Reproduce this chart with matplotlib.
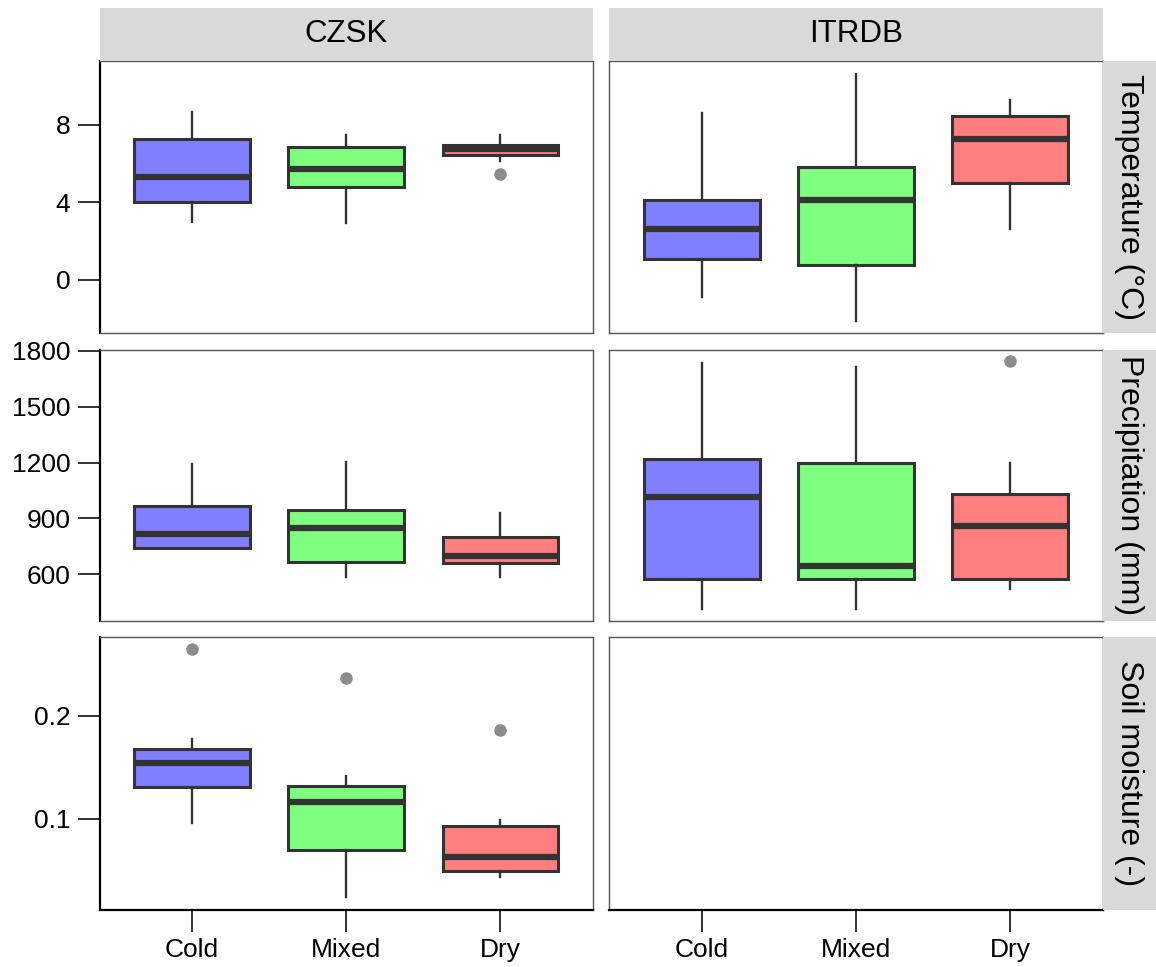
import matplotlib.pyplot as plt
import numpy as np

plt.rcParams['font.family'] = ['Liberation Sans', 'DejaVu Sans']

categories = ['Cold', 'Mixed', 'Dry']
columns = ['CZSK', 'ITRDB']
rows = ['Temperature (°C)', 'Precipitation (mm)', 'Soil moisture (-)']
box_colors = ['#7F7FFF', '#7FFF7F', '#FF7F7F']

# box stats per category: whisker low, q1, median, q3, whisker high
czsk_temp = [[3.0, 4.0, 5.31, 7.26, 8.69],
             [2.95, 4.8, 5.73, 6.85, 7.49],
             [6.14, 6.44, 6.78, 6.94, 7.49]]
czsk_temp_out = [[], [], [5.47]]
itrdb_temp = [[-0.91, 1.05, 2.64, 4.14, 8.64],
              [-2.12, 0.74, 4.11, 5.81, 10.64],
              [2.61, 4.99, 7.26, 8.48, 9.30]]
itrdb_temp_out = [[], [], []]

czsk_prec = [[740, 740, 815, 969, 1193],
             [584, 666, 847, 946, 1202],
             [584, 662, 700, 799, 928]]
czsk_prec_out = [[], [], []]
itrdb_prec = [[412, 576, 1017, 1220, 1734],
              [412, 573, 646, 1197, 1713],
              [520, 573, 860, 1030, 1197]]
itrdb_prec_out = [[], [], [1747]]

czsk_soil = [[0.0958, 0.1313, 0.1539, 0.1675, 0.1771],
             [0.0248, 0.0700, 0.1165, 0.1320, 0.1419],
             [0.0442, 0.0494, 0.0636, 0.0936, 0.0991]]
czsk_soil_out = [[0.2646], [0.2362], [0.1862]]

yticks = [[0, 4, 8], [600, 900, 1200, 1500, 1800], [0.1, 0.2]]
yticklabels = [['0', '4', '8'], ['600', '900', '1200', '1500', '1800'], ['0.1', '0.2']]
ylims = [(-2.76, 11.31), (349, 1808), (0.0119, 0.2762)]

panel_data = [[(czsk_temp, czsk_temp_out), (itrdb_temp, itrdb_temp_out)],
              [(czsk_prec, czsk_prec_out), (itrdb_prec, itrdb_prec_out)],
              [(czsk_soil, czsk_soil_out), None]]

W, H = 1156, 967
fig = plt.figure(figsize=(W / 100, H / 100), dpi=100)

def rect(x0, y0, x1, y1):
    return [x0 / W, 1 - y1 / H, (x1 - x0) / W, (y1 - y0) / H]

col_x = [(99.5, 593), (609, 1103)]
row_y = [(61, 333), (349.5, 621), (637, 910)]
strip_col = '#D9D9D9'
dark = '#333333'

for r in range(3):
    for c in range(2):
        ax = fig.add_axes(rect(col_x[c][0], row_y[r][0], col_x[c][1], row_y[r][1]))
        d = panel_data[r][c]
        if d is not None:
            stats = []
            for i, s in enumerate(d[0]):
                stats.append(dict(whislo=s[0], q1=s[1], med=s[2], q3=s[3], whishi=s[4],
                                  fliers=d[1][i], label=categories[i]))
            bp = ax.bxp(stats, positions=[1, 2, 3], widths=0.75, patch_artist=True,
                        showcaps=False,
                        boxprops=dict(edgecolor=dark, linewidth=2.2),
                        medianprops=dict(color=dark, linewidth=4.5, solid_capstyle='butt'),
                        whiskerprops=dict(color=dark, linewidth=1.7),
                        flierprops=dict(marker='o', markerfacecolor='#8C8C8C',
                                        markeredgecolor='#8C8C8C', markersize=8))
            for patch, col in zip(bp['boxes'], box_colors):
                patch.set_facecolor(col)
        ax.set_xlim(0.4, 3.6)
        ax.set_ylim(*ylims[r])
        for sp in ax.spines.values():
            sp.set_color('#555555')
            sp.set_linewidth(1.0)
        if c == 0:
            ax.spines['left'].set_color('black')
            ax.spines['left'].set_linewidth(1.6)
            ax.set_yticks(yticks[r])
            ax.set_yticklabels(yticklabels[r])
            ax.tick_params(axis='y', length=16, width=1.4, color=dark, pad=5, labelsize=19)
        else:
            ax.set_yticks([])
        if r == 2:
            ax.spines['bottom'].set_color('black')
            ax.spines['bottom'].set_linewidth(1.6)
            ax.set_xticks([1, 2, 3])
            ax.set_xticklabels(categories)
            ax.tick_params(axis='x', length=16, width=1.4, color=dark, pad=4, labelsize=19)
        else:
            ax.set_xticks([])

# top strips
for c in range(2):
    sax = fig.add_axes(rect(col_x[c][0], 8, col_x[c][1], 61))
    sax.set_facecolor(strip_col)
    sax.set_xticks([])
    sax.set_yticks([])
    for sp in sax.spines.values():
        sp.set_visible(False)
    sax.text(0.5, 0.5, columns[c], ha='center', va='center', fontsize=22.5,
             transform=sax.transAxes)

# right strips
for r in range(3):
    sax = fig.add_axes(rect(1103, row_y[r][0], 1156, row_y[r][1]))
    sax.set_facecolor(strip_col)
    sax.set_xticks([])
    sax.set_yticks([])
    for sp in sax.spines.values():
        sp.set_visible(False)
    sax.text(0.5, 0.5, rows[r], ha='center', va='center', fontsize=23, rotation=-90,
             transform=sax.transAxes)

fig.savefig('out.png', dpi=100)
